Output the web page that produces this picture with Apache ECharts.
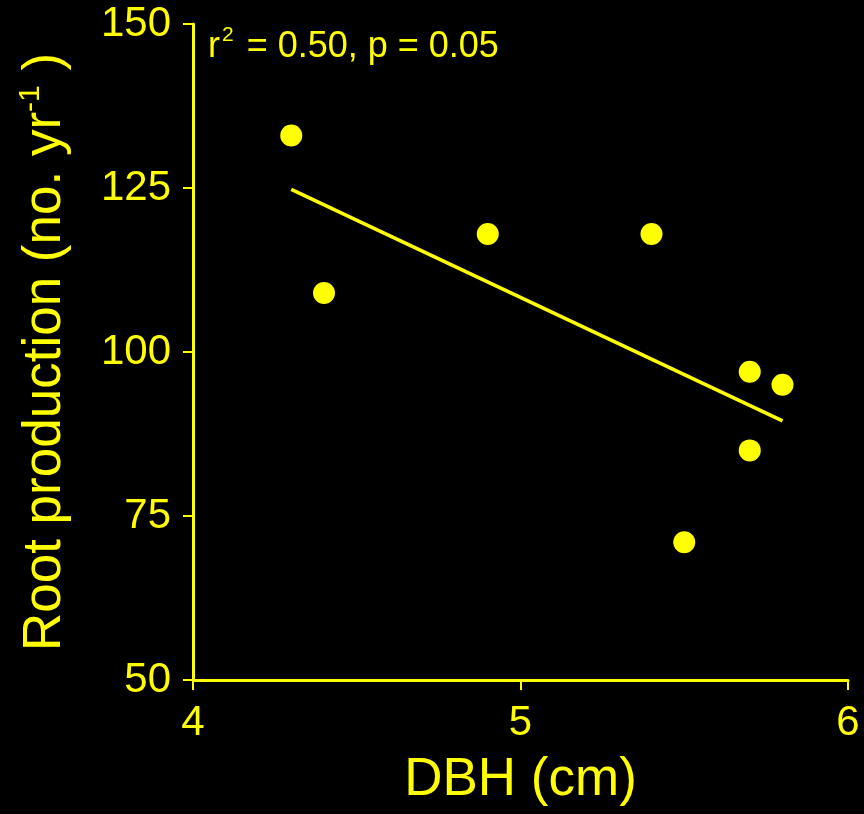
<!DOCTYPE html>
<html>
<head>
<meta charset="utf-8">
<script src="https://cdn.jsdelivr.net/npm/echarts@6/dist/echarts.min.js"></script>
<style>
html,body{margin:0;padding:0;background:#000;}
#c{width:864px;height:814px;}
</style>
</head>
<body>
<div id="c"></div>
<script>
// Data
const dbh = [4.3, 4.4, 4.9, 5.4, 5.5, 5.7, 5.7, 5.8];
const rootProduction = [133, 109, 118, 118, 71, 97, 85, 95];
const fitX = [4.3, 5.8];
const fitY = [124.8, 89.5];
const xTicks = [4, 5, 6];
const yTicks = [50, 75, 100, 125, 150];
const statsText = ['r', '2', ' = 0.50, p = 0.05'];

const YEL = '#FFFF00';
const FONT = '"Liberation Sans", Arial, sans-serif';

const chart = echarts.init(document.getElementById('c'));
chart.setOption({
  backgroundColor: '#000000',
  animation: false,
  title: {
    left: 203,
    top: 20,
    text: '{a|' + statsText[0] + '}{s|' + statsText[1] + '}{a|' + statsText[2] + '}',
    textStyle: {
      fontWeight: 'normal',
      rich: {
        a: {color: YEL, fontSize: 36, fontWeight: 'normal', fontFamily: FONT, verticalAlign: 'bottom', lineHeight: 40},
        s: {color: YEL, fontSize: 21, fontWeight: 'normal', fontFamily: FONT, verticalAlign: 'top', lineHeight: 40, padding: [0, 3, 18, 2]}
      }
    }
  },
  grid: {left: 193, right: 16, top: 24, bottom: 134},
  xAxis: {
    type: 'value',
    min: xTicks[0],
    max: xTicks[xTicks.length - 1],
    interval: 1,
    name: 'DBH (cm)',
    nameLocation: 'middle',
    nameGap: 74,
    nameTextStyle: {color: YEL, fontSize: 53, fontFamily: FONT},
    axisLine: {show: true, onZero: false, lineStyle: {color: YEL, width: 3}},
    axisTick: {show: true, length: 10, lineStyle: {color: YEL, width: 2}},
    axisLabel: {color: YEL, fontSize: 42, fontFamily: FONT, margin: 22},
    splitLine: {show: false}
  },
  yAxis: {
    type: 'value',
    min: yTicks[0],
    max: yTicks[yTicks.length - 1],
    interval: 25,
    name: '{a|Root production (no. yr}{s|-1}{a| )}',
    nameLocation: 'middle',
    nameGap: 121,
    nameRotate: 90,
    nameTextStyle: {
      rich: {
        a: {color: YEL, fontSize: 53, fontFamily: FONT, verticalAlign: 'bottom', lineHeight: 56},
        s: {color: YEL, fontSize: 30, fontFamily: FONT, verticalAlign: 'top', lineHeight: 56, padding: [0, 0, 22, 0]}
      }
    },
    axisLine: {show: true, onZero: false, lineStyle: {color: YEL, width: 3}},
    axisTick: {show: true, length: 10, lineStyle: {color: YEL, width: 2}},
    axisLabel: {color: YEL, fontSize: 42, fontFamily: FONT, margin: 22},
    splitLine: {show: false}
  },
  series: [
    {
      type: 'line',
      data: fitX.map((x, i) => [x, fitY[i]]),
      showSymbol: false,
      symbol: 'none',
      lineStyle: {color: YEL, width: 3.5},
      z: 2
    },
    {
      type: 'scatter',
      data: dbh.map((x, i) => [x, rootProduction[i]]),
      symbol: 'circle',
      symbolSize: 22,
      itemStyle: {color: YEL, opacity: 1},
      z: 3
    }
  ]
});
</script>
</body>
</html>
